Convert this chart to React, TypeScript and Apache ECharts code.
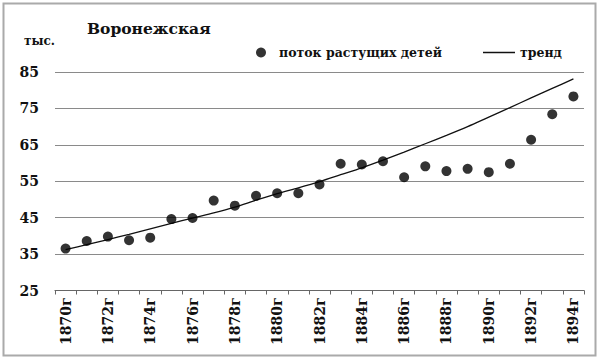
import React, { useEffect, useRef } from "react";
import * as echarts from "echarts";

const years = [
  "1870г", "1871г", "1872г", "1873г", "1874г", "1875г", "1876г", "1877г", "1878г",
  "1879г", "1880г", "1881г", "1882г", "1883г", "1884г", "1885г", "1886г", "1887г",
  "1888г", "1889г", "1890г", "1891г", "1892г", "1893г", "1894г",
];

const children = [
  36.5, 38.6, 39.8, 38.8, 39.5, 44.6, 44.9, 49.7, 48.3, 51.0, 51.7, 51.7, 54.1,
  59.8, 59.6, 60.5, 56.1, 59.1, 57.8, 58.4, 57.5, 59.8, 66.4, 73.4, 78.3,
];

const trend = [
  36.2, 37.6, 39.0, 40.4, 41.9, 43.4, 44.9, 46.3, 47.9, 49.8, 51.6, 53.2, 54.9,
  56.8, 58.7, 60.8, 63.0, 65.3, 67.6, 70.0, 72.6, 75.2, 77.9, 80.5, 83.1,
];

const yTicks = { min: 25, max: 85, interval: 10 };

const FONT = "DejaVu Serif";

export default function App() {
  const ref = useRef<HTMLDivElement>(null);
  useEffect(() => {
    if (!ref.current) return;
    const chart = echarts.init(ref.current, null, { renderer: "svg" });
    chart.setOption({
      animation: false,
      backgroundColor: "#ffffff",
      textStyle: { fontFamily: FONT },
      title: [
        {
          text: "Воронежская",
          left: 82,
          top: 15,
          textStyle: { fontFamily: FONT, fontSize: 15.5, fontWeight: "bold", color: "#111" },
        },
        {
          text: "тыс.",
          left: 19,
          top: 30,
          textStyle: { fontFamily: FONT, fontSize: 12, fontWeight: "bold", color: "#111" },
        },
      ],
      legend: [
        {
          left: 251,
          top: 41,
          data: [{ name: "поток растущих детей", icon: "circle" }],
          itemWidth: 10,
          itemHeight: 10,
          itemGap: 0,
          textStyle: { fontFamily: FONT, fontSize: 12.5, fontWeight: "bold", color: "#111", padding: [0, 0, 0, 8] },
        },
        {
          left: 478,
          top: 41,
          data: [{ name: "тренд", icon: "rect" }],
          itemWidth: 32,
          itemHeight: 1.5,
          textStyle: { fontFamily: FONT, fontSize: 12.5, fontWeight: "bold", color: "#111", padding: [0, 0, 0, 0] },
        },
      ],
      graphic: [
        {
          type: "rect",
          shape: { x: 3.5, y: 3.5, width: 592, height: 352 },
          style: { fill: "none", stroke: "#aaaaaa", lineWidth: 2 },
          silent: true,
        },
      ],
      grid: { left: 55, right: 16, top: 72, bottom: 68.5, containLabel: false },
      xAxis: {
        type: "category",
        data: years,
        boundaryGap: true,
        axisLine: { lineStyle: { color: "#666", width: 1.2 } },
        axisTick: { show: true, interval: 0, length: 4, lineStyle: { color: "#666" } },
        axisLabel: {
          interval: 1,
          rotate: 90,
          margin: 7,
          fontFamily: FONT,
          fontSize: 14,
          fontWeight: "bold",
          color: "#111",
        },
        splitLine: { show: false },
      },
      yAxis: {
        type: "value",
        min: yTicks.min,
        max: yTicks.max,
        interval: yTicks.interval,
        axisLine: { show: false },
        axisTick: { show: false },
        axisLabel: {
          margin: 16,
          fontFamily: FONT,
          fontSize: 14,
          fontWeight: "bold",
          color: "#111",
        },
        splitLine: { lineStyle: { color: "#8a8a8a", width: 1 } },
      },
      series: [
        {
          name: "поток растущих детей",
          type: "scatter",
          data: children,
          symbol: "circle",
          symbolSize: 10,
          itemStyle: { color: "#000" },
          z: 3,
        },
        {
          name: "тренд",
          type: "line",
          data: trend,
          symbol: "none",
          smooth: 0.3,
          lineStyle: { color: "#111", width: 1.3 },
          itemStyle: { color: "#111" },
          z: 2,
        },
      ],
    });
    return () => chart.dispose();
  }, []);
  return (
    <div
      ref={ref}
      style={{ position: "fixed", left: 0, top: 0, width: 600, height: 359 }}
    />
  );
}
